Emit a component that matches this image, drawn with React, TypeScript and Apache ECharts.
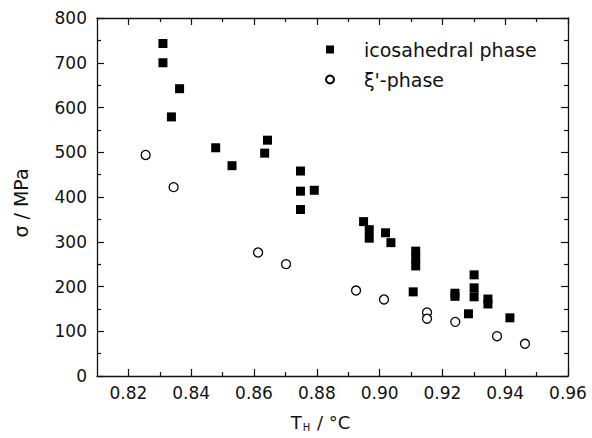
import React, { useEffect, useRef } from "react";
import * as echarts from "echarts";

const icoX = [0.831, 0.831, 0.8363, 0.8337, 0.8478, 0.853, 0.8643, 0.8634, 0.8748, 0.8748, 0.8792, 0.8748, 0.8949, 0.8967, 0.8967, 0.9019, 0.9036, 0.9115, 0.9115, 0.9115, 0.9107, 0.924, 0.924, 0.9301, 0.9301, 0.9301, 0.9283, 0.9345, 0.9345, 0.9415];
const icoY = [743, 700, 642, 579, 510, 470, 527, 498, 458, 413, 415, 372, 345, 327, 308, 320, 298, 279, 262, 246, 188, 185, 178, 226, 197, 177, 139, 172, 161, 130];
const xiX = [0.8255, 0.8344, 0.8613, 0.8702, 0.8925, 0.9014, 0.9151, 0.9151, 0.9241, 0.9374, 0.9463];
const xiY = [494, 422, 276, 250, 191, 171, 142, 128, 121, 89, 72];

const majorX = [0.82, 0.84, 0.86, 0.88, 0.9, 0.92, 0.94, 0.96];
const minorX = [0.83, 0.85, 0.87, 0.89, 0.91, 0.93, 0.95];

const ink = "#111";
const font = "DejaVu Sans, Verdana, sans-serif";

export default function App() {
  const ref = useRef<HTMLDivElement>(null);
  useEffect(() => {
    if (!ref.current) return;
    const chart = echarts.init(ref.current, null, { renderer: "svg" });
    const baseX = {
      type: "value",
      min: 0.81,
      max: 0.96,
      splitLine: { show: false },
    };
    chart.setOption({
      animation: false,
      backgroundColor: "#fff",
      textStyle: { fontFamily: font, color: ink },
      grid: { left: 97, right: 24, top: 18, bottom: 62, containLabel: false },
      legend: {
        orient: "vertical",
        left: 320,
        top: 35,
        itemWidth: 8,
        itemHeight: 8,
        itemGap: 11,
        data: ["icosahedral phase", "ξ'-phase"],
        textStyle: { fontSize: 19, color: ink, fontFamily: font, padding: [0, 0, 0, 25] },
      },
      xAxis: [
        {
          ...baseX,
          position: "bottom",
          axisLine: { show: true, lineStyle: { color: ink, width: 1.3 } },
          axisTick: { show: true, inside: true, length: 7, customValues: majorX, lineStyle: { color: ink, width: 1.2 } },
          axisLabel: {
            show: true,
            customValues: majorX,
            formatter: (v: number) => v.toFixed(2),
            fontSize: 17,
            color: ink,
            margin: 8,
            fontFamily: font,
          },
          name: "{a|T}{s|H}{a| / °C}",
          nameLocation: "middle",
          nameGap: 36,
          nameTextStyle: {
            padding: [0, 24, 0, 0],
            rich: {
              a: { fontSize: 18, color: ink, fontFamily: font },
              s: { fontSize: 10, color: ink, fontFamily: font, verticalAlign: "bottom", padding: [10, 1, 0, 1] },
            },
          },
        },
        {
          ...baseX,
          position: "bottom",
          axisLine: { show: false },
          axisTick: { show: true, inside: true, length: 4, customValues: minorX, lineStyle: { color: ink, width: 1.2 } },
          axisLabel: { show: false },
        },
        {
          ...baseX,
          position: "top",
          axisLine: { show: true, lineStyle: { color: ink, width: 1.3 } },
          axisTick: { show: true, inside: true, length: 7, customValues: majorX, lineStyle: { color: ink, width: 1.2 } },
          axisLabel: { show: false },
        },
        {
          ...baseX,
          position: "top",
          axisLine: { show: false },
          axisTick: { show: true, inside: true, length: 4, customValues: minorX, lineStyle: { color: ink, width: 1.2 } },
          axisLabel: { show: false },
        },
      ],
      yAxis: [
        {
          type: "value",
          min: 0,
          max: 800,
          interval: 100,
          position: "left",
          splitLine: { show: false },
          axisLine: { show: true, lineStyle: { color: ink, width: 1.3 } },
          axisTick: { show: true, inside: true, length: 7, lineStyle: { color: ink, width: 1.2 } },
          minorTick: { show: true, splitNumber: 2, length: 4, lineStyle: { color: ink, width: 1.2 } },
          axisLabel: { fontSize: 17, color: ink, margin: 10, fontFamily: font },
          name: "σ / MPa",
          nameLocation: "middle",
          nameGap: 67,
          nameTextStyle: { fontSize: 19, color: ink, fontFamily: font, padding: [0, 12, 0, 0] },
        },
        {
          type: "value",
          min: 0,
          max: 800,
          interval: 100,
          position: "right",
          splitLine: { show: false },
          axisLine: { show: true, lineStyle: { color: ink, width: 1.3 } },
          axisTick: { show: true, inside: true, length: 7, lineStyle: { color: ink, width: 1.2 } },
          minorTick: { show: true, splitNumber: 2, length: 4, lineStyle: { color: ink, width: 1.2 } },
          axisLabel: { show: false },
        },
      ],
      series: [
        {
          name: "icosahedral phase",
          type: "scatter",
          symbol: "rect",
          symbolSize: 9,
          itemStyle: { color: "#000", opacity: 1 },
          data: icoX.map((x, i) => [x, icoY[i]]),
        },
        {
          name: "ξ'-phase",
          type: "scatter",
          symbol: "circle",
          symbolSize: 9,
          itemStyle: { color: "#fff", borderColor: "#000", borderWidth: 1.3, opacity: 1 },
          data: xiX.map((x, i) => [x, xiY[i]]),
        },
      ],
    });
    return () => chart.dispose();
  }, []);
  return <div ref={ref} style={{ width: 592, height: 438, position: "absolute", left: 0, top: 0 }} />;
}
